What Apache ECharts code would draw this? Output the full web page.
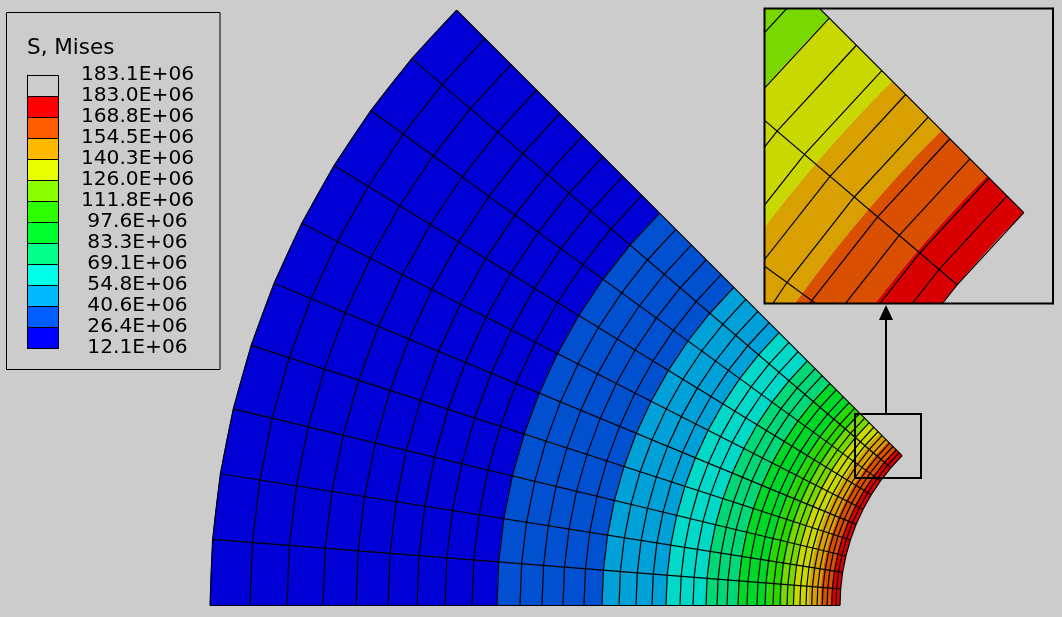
<!DOCTYPE html>
<html><head><meta charset="utf-8">
<style>html,body{margin:0;padding:0;background:#ccc}#c{width:1062px;height:617px}</style>
<script src="https://cdn.jsdelivr.net/npm/echarts@6/dist/echarts.min.js"></script>
</head><body><div id="c"></div>
<script>
// Model radii (same unit for mesh and contours), angle in degrees from the horizontal edge
const meshRadii = [212,216,220.3,224.9,229.7,234.9,240.3,246,252.1,258.6,265,272,279,287,295,305,314,325,335,346,359,372,386,400,416,433,450,468,489,510,532,555,580,607,635,664,696,729,765,802,842];
const meshAngles = [0,4.5,9,13.5,18,22.5,27,31.5,36,40.5,45];
// Contour band limits, outer to inner, one more than bandColors
const contourRadii = [842,555,450,386,346,315,285,270,258.6,243.5,231.7,220.8,212];
const bandColors = ['#0000d6','#0050d0','#00a0d8','#00d8c8','#00d878','#00d828','#28d800','#78d800','#c8d800','#d8a000','#d85000','#d80000'];
// Legend
const legendColors = ['#0000ff','#005dff','#00b9ff','#00ffe8','#00ff8b','#00ff2e','#2eff00','#8bff00','#e8ff00','#ffb900','#ff5d00','#ff0000','#cccccc'];
const legendLabels = ['12.1E+06','26.4E+06','40.6E+06','54.8E+06','69.1E+06','83.3E+06','97.6E+06','111.8E+06','126.0E+06','140.3E+06','154.5E+06','168.8E+06','183.0E+06','183.1E+06'];

const rad = Math.PI/180;
const pt = (api,r,a)=>api.coord([-r*Math.cos(a*rad), r*Math.sin(a*rad)]);
const arcPts = (api,r,step)=>{const p=[];for(let a=0;a<=45+1e-6;a+=step)p.push(pt(api,r,a));return p;};
const bandItem = (p,api)=>{
  const o=arcPts(api,api.value(0),0.5), i=arcPts(api,api.value(1),0.5).reverse();
  return {type:'polygon',shape:{points:o.concat(i)},style:{fill:bandColors[api.value(2)],stroke:null}};
};
const arcItem = (p,api)=>({type:'polyline',shape:{points:arcPts(api,api.value(0),4.5)},style:{fill:null,stroke:'#000',lineWidth:1.2}});
const rayItem = (p,api)=>{
  const a=api.value(0),s=pt(api,212,a),e=pt(api,842,a);
  return {type:'line',shape:{x1:s[0],y1:s[1],x2:e[0],y2:e[1]},style:{stroke:'#000',lineWidth:1.2}};
};
const bandRows = bandColors.map((c,i)=>[contourRadii[i],contourRadii[i+1],i]);
const arcRows = meshRadii.map(r=>[r]);
const rayRows = meshAngles.map(a=>[a]);
const wedge = (ax,z)=>[
  {type:'custom',xAxisIndex:ax,yAxisIndex:ax,coordinateSystem:'cartesian2d',clip:true,silent:true,z:z,renderItem:bandItem,data:bandRows,encode:{x:[],y:[]}},
  {type:'custom',xAxisIndex:ax,yAxisIndex:ax,coordinateSystem:'cartesian2d',clip:true,silent:true,z:z+1,renderItem:arcItem,data:arcRows,encode:{x:[],y:[]}},
  {type:'custom',xAxisIndex:ax,yAxisIndex:ax,coordinateSystem:'cartesian2d',clip:true,silent:true,z:z+1,renderItem:rayItem,data:rayRows,encode:{x:[],y:[]}}
];
const font='"DejaVu Sans"';
const chart = echarts.init(document.getElementById('c'));
chart.setOption({
  animation:false,
  backgroundColor:'#cccccc',
  title:{text:'S, Mises',left:22,top:32,textStyle:{fontFamily:font,fontSize:21.5,fontWeight:'normal',color:'#000'}},
  grid:[
    {left:0,top:0,width:1062,height:617},
    {left:765,top:9,width:288,height:294},
    {left:27,top:75,width:31,height:273}
  ],
  xAxis:[
    {type:'value',gridIndex:0,min:-1052,max:10,show:false},
    {type:'value',gridIndex:1,min:-193.75,max:-144.95,show:false},
    {type:'value',gridIndex:2,min:0,max:1,show:false}
  ],
  yAxis:[
    {type:'value',gridIndex:0,min:-11.5,max:605.5,show:false},
    {type:'value',gridIndex:1,min:134.6,max:184.4,show:false},
    {type:'value',gridIndex:2,min:0,max:13,interval:1,position:'right',
      axisLine:{show:true,lineStyle:{color:'#000',width:1}},
      axisTick:{show:true,length:11,lineStyle:{color:'#000',width:1}},
      splitLine:{show:false},
      axisLabel:{show:true,formatter:v=>legendLabels[v],align:'center',margin:79.5,color:'#000',fontFamily:font,fontSize:20.2,hideOverlap:false}}
  ],
  series:[
    ...wedge(0,2),
    ...wedge(1,6),
    {type:'custom',xAxisIndex:2,yAxisIndex:2,coordinateSystem:'cartesian2d',silent:true,z:9,
      data:legendColors.map((c,i)=>[i]),encode:{x:[],y:[]},
      renderItem:(p,api)=>{
        const i=api.value(0),a=api.coord([0,i+1]),b=api.coord([1,i]);
        return {type:'rect',shape:{x:a[0]+.5,y:a[1]+.5,width:b[0]-a[0],height:b[1]-a[1]},style:{fill:legendColors[i],stroke:'#000',lineWidth:1}};
      }}
  ],
  graphic:[
    {type:'rect',z:0,silent:true,shape:{x:6.5,y:12.5,width:213.5,height:357},style:{fill:'#cccccc',stroke:'#000',lineWidth:1}},
    {type:'rect',z:20,silent:true,shape:{x:855,y:414,width:66,height:64},style:{fill:null,stroke:'#000',lineWidth:2}},
    {type:'rect',z:20,silent:true,shape:{x:764.5,y:8.5,width:288.5,height:295},style:{fill:null,stroke:'#000',lineWidth:2}},
    {type:'line',z:20,silent:true,shape:{x1:886,y1:414,x2:886,y2:318},style:{stroke:'#000',lineWidth:2}},
    {type:'polygon',z:20,silent:true,shape:{points:[[886,305],[893,320],[879,320]]},style:{fill:'#000'}}
  ]
});
</script></body></html>
